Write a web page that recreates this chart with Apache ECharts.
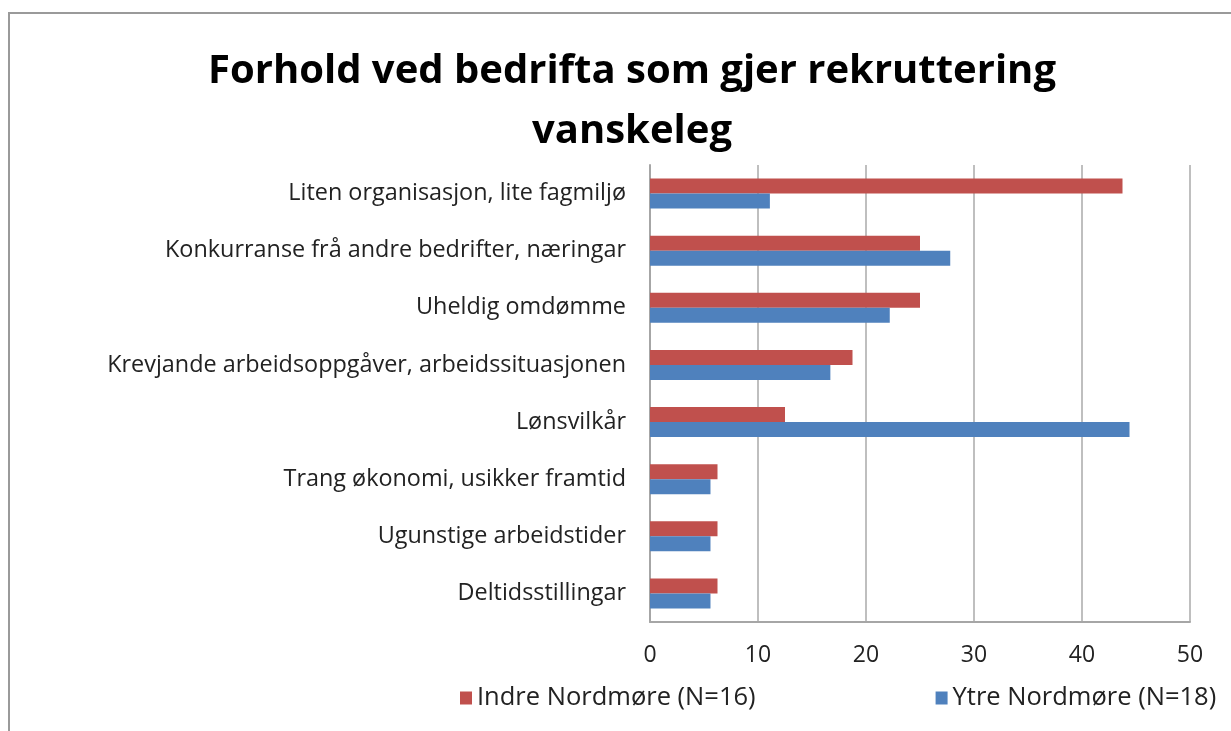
<!DOCTYPE html>
<html>
<head>
<meta charset="utf-8">
<script src="https://cdn.jsdelivr.net/npm/echarts@6/dist/echarts.min.js"></script>
<style>
html,body{margin:0;padding:0;background:#fff;}
#c{width:1231px;height:731px;}
</style>
</head>
<body>
<div id="c"></div>
<script>
const categories = [
  "Liten organisasjon, lite fagmiljø",
  "Konkurranse frå andre bedrifter, næringar",
  "Uheldig omdømme",
  "Krevjande arbeidsoppgåver, arbeidssituasjonen",
  "Lønsvilkår",
  "Trang økonomi, usikker framtid",
  "Ugunstige arbeidstider",
  "Deltidsstillingar"
];
const seriesNames = ["Indre Nordmøre (N=16)", "Ytre Nordmøre (N=18)"];
const indre = [43.75, 25, 25, 18.75, 12.5, 6.25, 6.25, 6.25];
const ytre = [11.1, 27.8, 22.2, 16.7, 44.4, 5.6, 5.6, 5.6];
const xTicks = [0, 10, 20, 30, 40, 50];

const chart = echarts.init(document.getElementById('c'));
const font = '"Open Sans", Lato, sans-serif';
chart.setOption({
  animation: false,
  backgroundColor: '#fff',
  graphic: [{
    type: 'rect', shape: {x: 9, y: 13, width: 1300, height: 800},
    style: {fill: 'none', stroke: '#9a9a9a', lineWidth: 2}, silent: true
  }],
  title: {
    text: 'Forhold ved bedrifta som gjer rekruttering\nvanskeleg',
    left: 627, textAlign: 'center', top: 37,
    textStyle: {fontFamily: font, fontWeight: 'bold', fontSize: 40, lineHeight: 60, color: '#000'}
  },
  legend: {
    data: seriesNames, bottom: 20, left: 460, width: 800, padding: 0, itemGap: 180,
    itemWidth: 12, itemHeight: 13, icon: 'rect',
    textStyle: {fontFamily: font, fontSize: 25.5, color: '#222', padding: [0, 0, 0, 0]}
  },
  grid: {left: 650, right: 41, top: 165, bottom: 109, containLabel: false},
  xAxis: {
    type: 'value', min: 0, max: 50, interval: 10,
    axisLine: {show: true, lineStyle: {color: '#a6a6a6', width: 2}},
    axisTick: {show: false},
    splitLine: {show: true, lineStyle: {color: '#bfbfbf', width: 2}},
    axisLabel: {fontFamily: font, fontSize: 23, color: '#222', margin: 22,
      formatter: v => xTicks.includes(v) ? String(v) : ''}
  },
  yAxis: {
    type: 'category', data: categories, inverse: true,
    axisLine: {show: true, lineStyle: {color: '#a6a6a6', width: 2}},
    axisTick: {show: false},
    axisLabel: {fontFamily: font, fontSize: 23.4, color: '#222', margin: 24}
  },
  series: [
    {name: seriesNames[0], type: 'bar', data: indre, barWidth: 15, barGap: '0%',
      itemStyle: {color: '#c0504d'}},
    {name: seriesNames[1], type: 'bar', data: ytre, barWidth: 15, barGap: '0%',
      itemStyle: {color: '#4f81bd'}}
  ]
});
</script>
</body>
</html>
